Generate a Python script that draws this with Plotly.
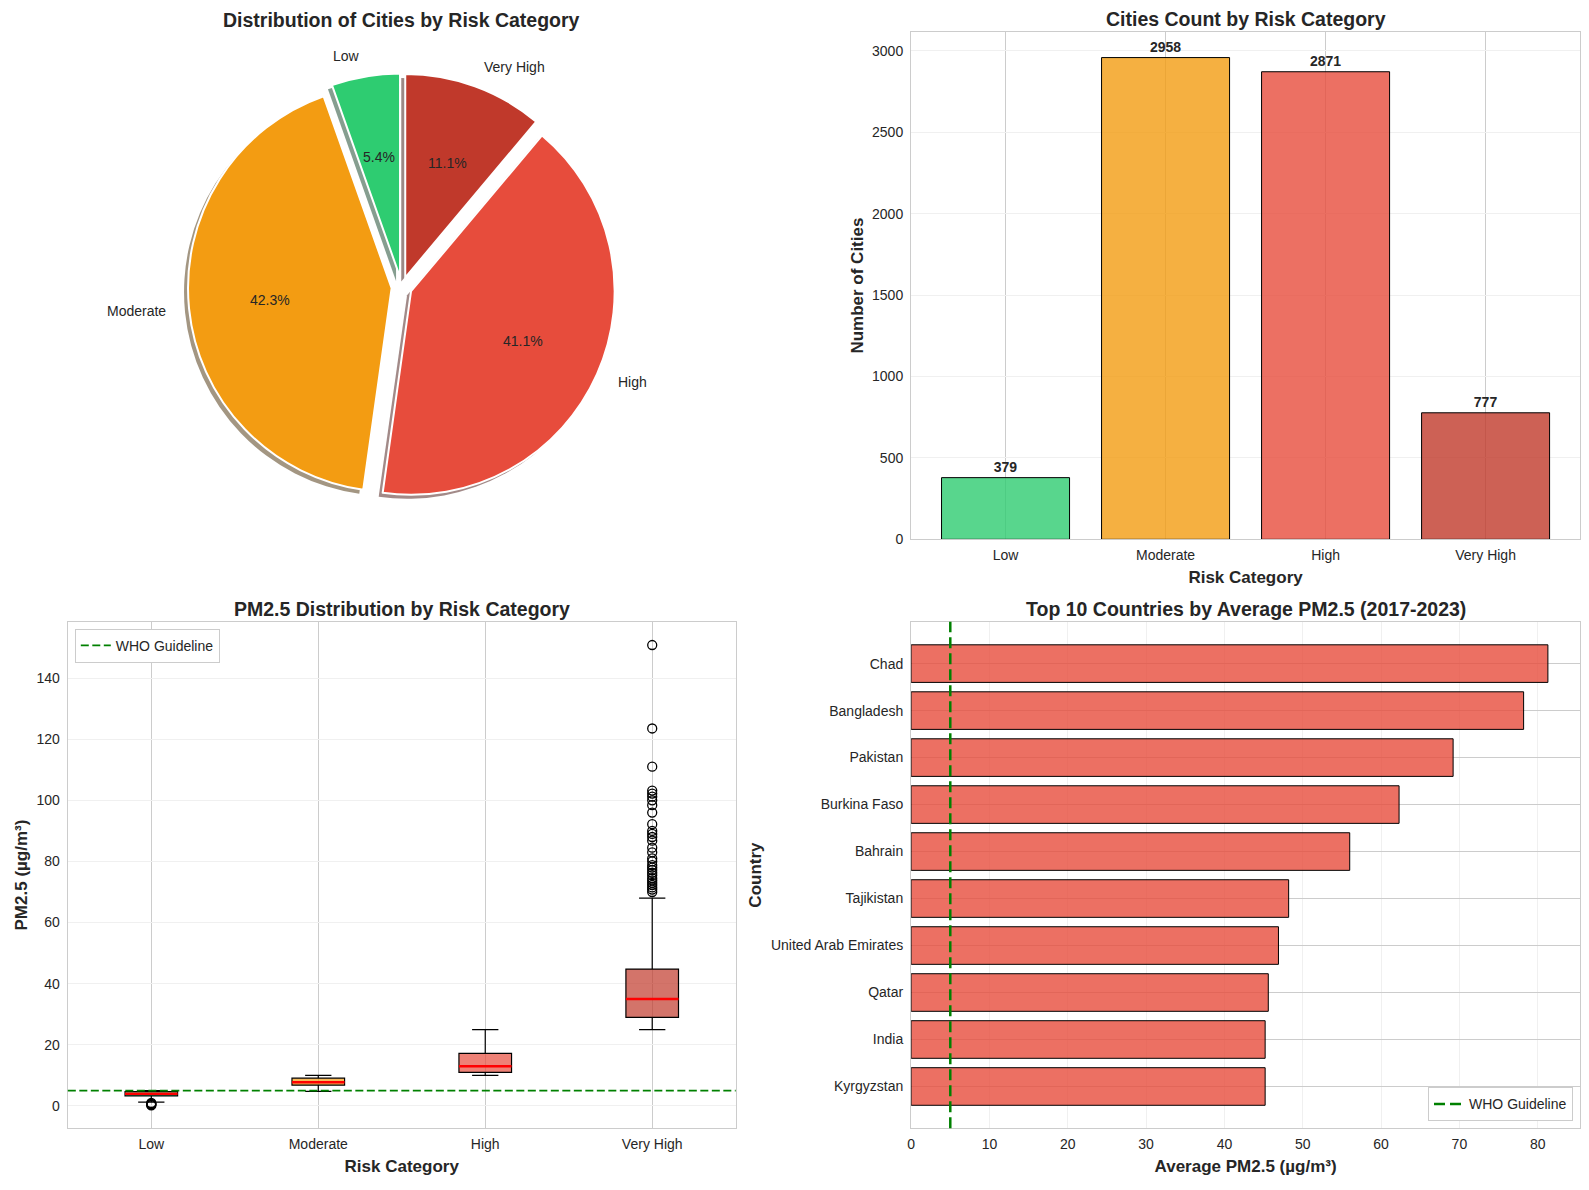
import math
import plotly.graph_objects as go

# the page body adds an 8px margin, so the figure is 16px smaller than the window
# and every pixel position below is given in window pixels
OFF = 8
W, H = 1589 - 2 * OFF, 1190 - 2 * OFF

# risk categories
categorias = ['Low', 'Moderate', 'High', 'Very High']
ciudades = [379, 2958, 2871, 777]
colores = ['#2ecc71', '#f39c12', '#e74c3c', '#c0392b']
separacion = [0.05, 0.05, 0.05, 0.05]

# box plot stats (PM2.5)
bigote_inf = [1.3, 4.8, 10.0, 25.0]
q1 = [3.3, 6.8, 11.0, 29.0]
mediana = [4.0, 7.8, 13.0, 35.0]
q3 = [4.7, 9.1, 17.2, 44.8]
bigote_sup = [5.0, 10.0, 25.0, 68.0]
atipicos_low = [0.2, 0.4, 0.6, 0.8, 1.0]
atipicos_very_high = [70.0, 70.8, 71.5, 72.3, 73.0, 73.8, 74.5, 75.5, 76.3, 77.2,
                      78.0, 78.8, 80.0, 81.0, 83.0, 84.5, 86.8, 88.0, 89.0, 90.0,
                      92.2, 96.0, 98.4, 100.0, 101.2, 102.2, 103.2, 111.0, 123.5, 150.8]

# top 10 countries
paises = ['Chad', 'Bangladesh', 'Pakistan', 'Burkina Faso', 'Bahrain', 'Tajikistan',
          'United Arab Emirates', 'Qatar', 'India', 'Kyrgyzstan']
pm25_paises = [81.3, 78.2, 69.2, 62.3, 56.0, 48.2, 46.9, 45.6, 45.2, 45.2]
who = 5

FUENTE = 'Liberation Sans, Arial, sans-serif'
TEXTO = '#262626'
GRID = '#cccccc'
GRID_SUAVE = '#f0f0f0'

# panel boxes in window pixels (left, top, right, bottom)
PANEL_BAR = (910, 32, 1581, 543)
PANEL_BOX = (64, 626, 734, 1136)
PANEL_TOP = (910, 626, 1581, 1136)
PIE_CX, PIE_CY, PIE_R = 399, 289, 205


def rgba(hexcolor, a, k=1.0):
    h = hexcolor.lstrip('#')
    r, g, b = (int(h[i:i + 2], 16) for i in (0, 2, 4))
    return 'rgba(%d,%d,%d,%s)' % (r * k, g * k, b * k, a)


def fx(x):
    return (x - OFF) / W


def fy(y):
    return 1 - (y - OFF) / H


def dom_x(p):
    return [fx(p[0]), fx(p[2])]


def dom_y(p):
    return [fy(p[3]), fy(p[1])]


# plotly puts the first slice to the right of 12 o'clock when going counterclockwise,
# matplotlib starts it at 12 o'clock, so turn the pie back by the first slice
giro = -360.0 * ciudades[0] / sum(ciudades)
pie_comun = dict(labels=categorias, values=ciudades, sort=False, direction='counterclockwise',
                 rotation=giro, pull=separacion, showlegend=False, textinfo='none',
                 hoverinfo='label+percent')
lado = PIE_R * (1 + max(separacion))
pie_box = (PIE_CX - lado, PIE_CY - lado, PIE_CX + lado, PIE_CY + lado)
sombra_box = (pie_box[0] - 4, pie_box[1] + 4, pie_box[2] - 4, pie_box[3] + 4)

fig = go.Figure()

# pie: shadow then slices
fig.add_trace(go.Pie(
    pie_comun,
    marker=dict(colors=[rgba(c, 0.5, 0.3) for c in colores], line=dict(width=0)),
    domain=dict(x=dom_x(sombra_box), y=dom_y(sombra_box))
))
fig.add_trace(go.Pie(
    pie_comun,
    marker=dict(colors=colores, line=dict(color='white', width=2)),
    domain=dict(x=dom_x(pie_box), y=dom_y(pie_box))
))

# pie texts like matplotlib: percent at 0.6 r, label at 1.1 r
total = sum(ciudades)
acum = 0
for cat, v, p in zip(categorias, ciudades, separacion):
    ang = math.radians(90 + 360.0 * (acum + v / 2.0) / total)
    acum += v
    ox = PIE_CX + p * PIE_R * math.cos(ang)
    oy = PIE_CY - p * PIE_R * math.sin(ang)
    fig.add_annotation(
        text='%.1f%%' % (100.0 * v / total), showarrow=False, xref='paper', yref='paper',
        x=fx(ox + 0.6 * PIE_R * math.cos(ang)), y=fy(oy - 0.6 * PIE_R * math.sin(ang)),
        xanchor='center', yanchor='middle', font=dict(size=14, color=TEXTO, family=FUENTE))
    fig.add_annotation(
        text=cat, showarrow=False, xref='paper', yref='paper',
        x=fx(ox + 1.1 * PIE_R * math.cos(ang)), y=fy(oy - 1.1 * PIE_R * math.sin(ang)),
        xanchor='left' if math.cos(ang) > 0 else 'right', yanchor='middle',
        font=dict(size=14, color=TEXTO, family=FUENTE))

# bar chart of city counts
fig.add_trace(go.Bar(
    x=categorias, y=ciudades, xaxis='x', yaxis='y', showlegend=False,
    marker=dict(color=[rgba(c, 0.8) for c in colores], line=dict(color='black', width=1)),
    texttemplate='<b>%{y}</b>', textposition='outside', cliponaxis=False,
    textfont=dict(color=TEXTO, size=14, family=FUENTE)
))

# box plots
for i, cat in enumerate(categorias):
    fig.add_trace(go.Box(
        x=[cat], q1=[q1[i]], median=[mediana[i]], q3=[q3[i]],
        lowerfence=[bigote_inf[i]], upperfence=[bigote_sup[i]],
        fillcolor=rgba(colores[i], 0.7), line=dict(color='black', width=1.2),
        whiskerwidth=0.5, boxpoints=False, showlegend=False, hoverinfo='skip',
        xaxis='x2', yaxis='y2'
    ))
    # red median line
    fig.add_trace(go.Box(
        x=[cat], q1=[mediana[i]], median=[mediana[i]], q3=[mediana[i]],
        lowerfence=[mediana[i]], upperfence=[mediana[i]],
        fillcolor='rgba(0,0,0,0)', line=dict(color='red', width=2.5),
        whiskerwidth=0, boxpoints=False, showlegend=False, hoverinfo='skip',
        xaxis='x2', yaxis='y2'
    ))

for cat, vals in [('Low', atipicos_low), ('Very High', atipicos_very_high)]:
    fig.add_trace(go.Scatter(
        x=[cat] * len(vals), y=vals, mode='markers', showlegend=False,
        marker=dict(symbol='circle-open', size=9, color='black', line=dict(width=1.3)),
        xaxis='x2', yaxis='y2'
    ))

# top 10 countries
fig.add_trace(go.Bar(
    x=pm25_paises, y=paises, orientation='h', xaxis='x3', yaxis='y3', showlegend=False,
    marker=dict(color=rgba('#e74c3c', 0.8), line=dict(color='black', width=1))
))

# WHO guideline lines
fig.add_shape(type='line', xref='x2 domain', x0=0, x1=1, yref='y2', y0=who, y1=who,
              line=dict(color='green', width=1.8, dash='8px,3.5px'),
              showlegend=True, name='WHO Guideline', legend='legend')
fig.add_shape(type='line', xref='x3', x0=who, x1=who, yref='y3 domain', y0=0, y1=1,
              line=dict(color='green', width=2.5, dash='11px,5px'),
              showlegend=True, name='WHO Guideline', legend='legend2')

eje = dict(showline=True, mirror=True, linecolor=GRID, linewidth=1.25, ticks='',
           zeroline=False, tickfont=dict(size=14, color=TEXTO, family=FUENTE))
eje_x = dict(eje, ticklabelstandoff=3)
eje_y = dict(eje, ticklabelstandoff=4)
titulo_eje = dict(size=17, color=TEXTO, family=FUENTE)

fig.update_layout(
    width=W, height=H,
    margin=dict(l=0, r=0, t=0, b=0),
    paper_bgcolor='white', plot_bgcolor='white',
    font=dict(family=FUENTE, color=TEXTO),
    bargap=0.2, boxmode='overlay', boxgap=0.55,
    xaxis=dict(eje_x, domain=dom_x(PANEL_BAR), anchor='y', type='category', range=[-0.59, 3.59],
               showgrid=True, gridcolor=GRID, gridwidth=1,
               title=dict(text='<b>Risk Category</b>', font=titulo_eje, standoff=8)),
    yaxis=dict(eje_y, domain=dom_y(PANEL_BAR), anchor='x', range=[0, 3116], dtick=500,
               showgrid=True, gridcolor=GRID_SUAVE,
               title=dict(text='<b>Number of Cities</b>', font=titulo_eje, standoff=4)),
    xaxis2=dict(eje_x, domain=dom_x(PANEL_BOX), anchor='y2', type='category', range=[-0.5, 3.5],
                showgrid=True, gridcolor=GRID, gridwidth=1,
                title=dict(text='<b>Risk Category</b>', font=titulo_eje, standoff=8)),
    yaxis2=dict(eje_y, domain=dom_y(PANEL_BOX), anchor='x2', range=[-7.3, 158.4], dtick=20,
                showgrid=True, gridcolor=GRID_SUAVE,
                title=dict(text='<b>PM2.5 (µg/m³)</b>', font=titulo_eje, standoff=4)),
    xaxis3=dict(eje_x, domain=dom_x(PANEL_TOP), anchor='y3', range=[0, 85.4], dtick=10,
                showgrid=True, gridcolor=GRID_SUAVE,
                title=dict(text='<b>Average PM2.5 (µg/m³)</b>', font=titulo_eje, standoff=8)),
    yaxis3=dict(eje_y, domain=dom_y(PANEL_TOP), anchor='x3', type='category', range=[9.89, -0.89],
                showgrid=True, gridcolor=GRID, gridwidth=1,
                title=dict(text='<b>Country</b>', font=titulo_eje, standoff=4)),
    legend=dict(x=fx(PANEL_BOX[0] + 7), y=fy(PANEL_BOX[1] + 7),
                xanchor='left', yanchor='top',
                bgcolor='white', bordercolor=GRID, borderwidth=1,
                font=dict(size=14, color=TEXTO, family=FUENTE)),
    legend2=dict(x=fx(PANEL_TOP[2] - 7), y=fy(PANEL_TOP[3] - 7),
                 xanchor='right', yanchor='bottom',
                 bgcolor='white', bordercolor=GRID, borderwidth=1,
                 font=dict(size=14, color=TEXTO, family=FUENTE)),
)

# subplot titles
titulos = [
    ('Distribution of Cities by Risk Category', PIE_CX, 20),
    ('Cities Count by Risk Category', (PANEL_BAR[0] + PANEL_BAR[2]) / 2, PANEL_BAR[1] - 13),
    ('PM2.5 Distribution by Risk Category', (PANEL_BOX[0] + PANEL_BOX[2]) / 2, PANEL_BOX[1] - 13),
    ('Top 10 Countries by Average PM2.5 (2017-2023)', (PANEL_TOP[0] + PANEL_TOP[2]) / 2, PANEL_TOP[1] - 13),
]
for texto, x, y in titulos:
    fig.add_annotation(text='<b>%s</b>' % texto, x=fx(x), y=fy(y), xref='paper', yref='paper',
                       showarrow=False, xanchor='center', yanchor='middle',
                       font=dict(size=19.5, color=TEXTO, family=FUENTE))

fig.write_html("out.html")
